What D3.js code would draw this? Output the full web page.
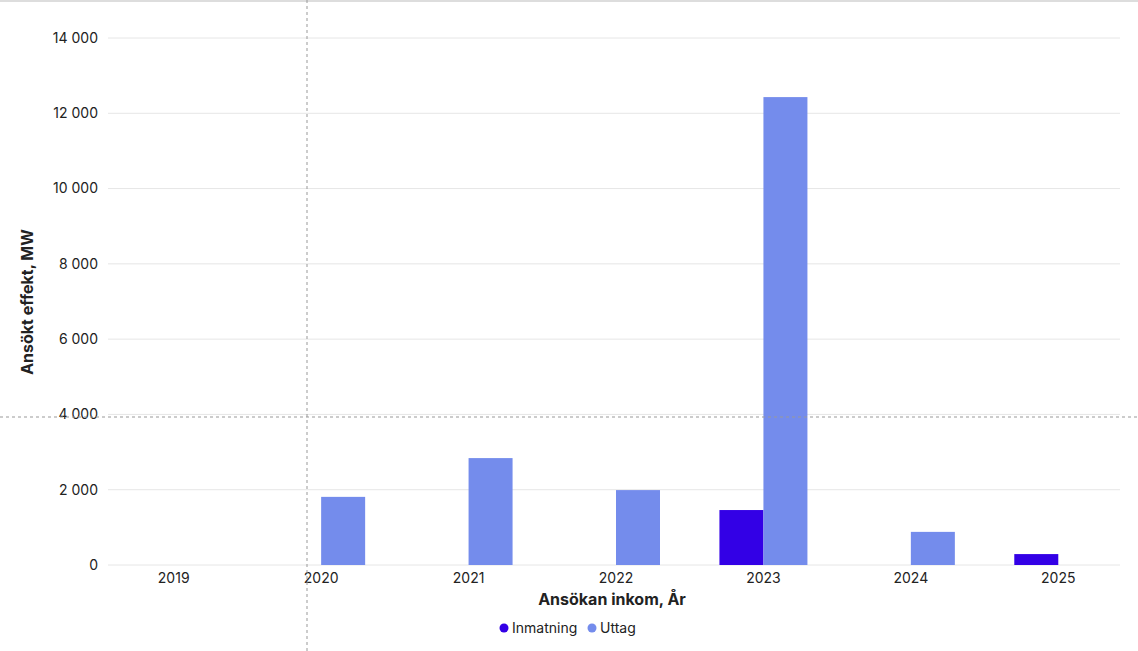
<!DOCTYPE html>
<html lang="en">
<head>
<meta charset="UTF-8">
<script src="https://d3js.org/d3.v7.min.js"></script>
<style>
  body { margin: 0; background: #fff; font-family: Inter, "Noto Sans", sans-serif; }
</style>
</head>
<body>
<svg id="chart" width="1138" height="651"></svg>
<script>
const years = ["2019", "2020", "2021", "2022", "2023", "2024", "2025"];
const seriesNames = ["Inmatning", "Uttag"];
const inmatning = [0, 0, 0, 0, 1460, 0, 290];
const uttag = [0, 1810, 2840, 1990, 12430, 880, 0];
const yTicks = [0, 2000, 4000, 6000, 8000, 10000, 12000, 14000];
const colors = ["#3300e6", "#748cec"];

const svg = d3.select("#chart");
const W = 1138, H = 651;
const plotLeft = 108, plotRight = 1120, plotTop = 38, plotBottom = 565;

// top border
svg.append("line").attr("x1", 0).attr("x2", W).attr("y1", 1).attr("y2", 1)
  .attr("stroke", "#bbb");

const x = d3.scaleBand().domain(years).range([100, 1132]);
const xs = d3.scaleBand().domain(seriesNames).range([x.bandwidth() / 2 - 44, x.bandwidth() / 2 + 44]);
const y = d3.scaleLinear().domain([0, 14000]).range([plotBottom, plotTop]);

const fmt = v => d3.format(",")(v).replace(/,/g, " ");

// grid
svg.append("g").selectAll("line").data(yTicks).join("line")
  .attr("x1", plotLeft).attr("x2", plotRight)
  .attr("y1", d => y(d)).attr("y2", d => y(d))
  .attr("stroke", "#e6e6e6");

svg.append("g").selectAll("text").data(yTicks).join("text")
  .attr("x", 98).attr("y", d => y(d)).attr("dy", "0.35em")
  .attr("text-anchor", "end").attr("font-size", 14).attr("fill", "#222")
  .text(fmt);

// bars
const data = years.map((yr, i) => ({ yr, vals: [inmatning[i], uttag[i]] }));
const groups = svg.append("g").selectAll("g").data(data).join("g")
  .attr("transform", d => `translate(${x(d.yr)},0)`);
groups.selectAll("rect").data(d => d.vals.map((v, j) => ({ v, s: seriesNames[j], c: colors[j] })))
  .join("rect")
  .filter(d => d.v > 0)
  .attr("x", d => xs(d.s)).attr("width", xs.bandwidth())
  .attr("y", d => y(d.v)).attr("height", d => y(0) - y(d.v))
  .attr("fill", d => d.c);

// x labels
svg.append("g").selectAll("text").data(years).join("text")
  .attr("x", d => x(d) + x.bandwidth() / 2).attr("y", 583)
  .attr("text-anchor", "middle").attr("font-size", 14).attr("fill", "#222")
  .text(d => d);

// axis titles
svg.append("text").attr("x", 612).attr("y", 605).attr("text-anchor", "middle")
  .attr("font-size", 16).attr("font-weight", 700).attr("fill", "#222")
  .text("Ansökan inkom, År");
svg.append("text").attr("transform", "translate(33,302) rotate(-90)")
  .attr("text-anchor", "middle").attr("font-size", 16).attr("font-weight", 700).attr("fill", "#222")
  .text("Ansökt effekt, MW");

// legend
const legend = svg.append("g").attr("transform", "translate(504,628)");
const lx = [0, 88];
seriesNames.forEach((s, i) => {
  legend.append("circle").attr("cx", lx[i]).attr("cy", 0).attr("r", 4.5).attr("fill", colors[i]);
  legend.append("text").attr("x", lx[i] + 8).attr("y", 0).attr("dy", "0.35em")
    .attr("font-size", 14).attr("fill", "#222").text(s);
});

// crosshair
svg.append("line").attr("x1", 307).attr("x2", 307).attr("y1", 0).attr("y2", 651)
  .attr("stroke", "#999").attr("stroke-dasharray", "3,3");
svg.append("line").attr("x1", 0).attr("x2", W).attr("y1", 417).attr("y2", 417)
  .attr("stroke", "#999").attr("stroke-dasharray", "3,3");
</script>
</body>
</html>
